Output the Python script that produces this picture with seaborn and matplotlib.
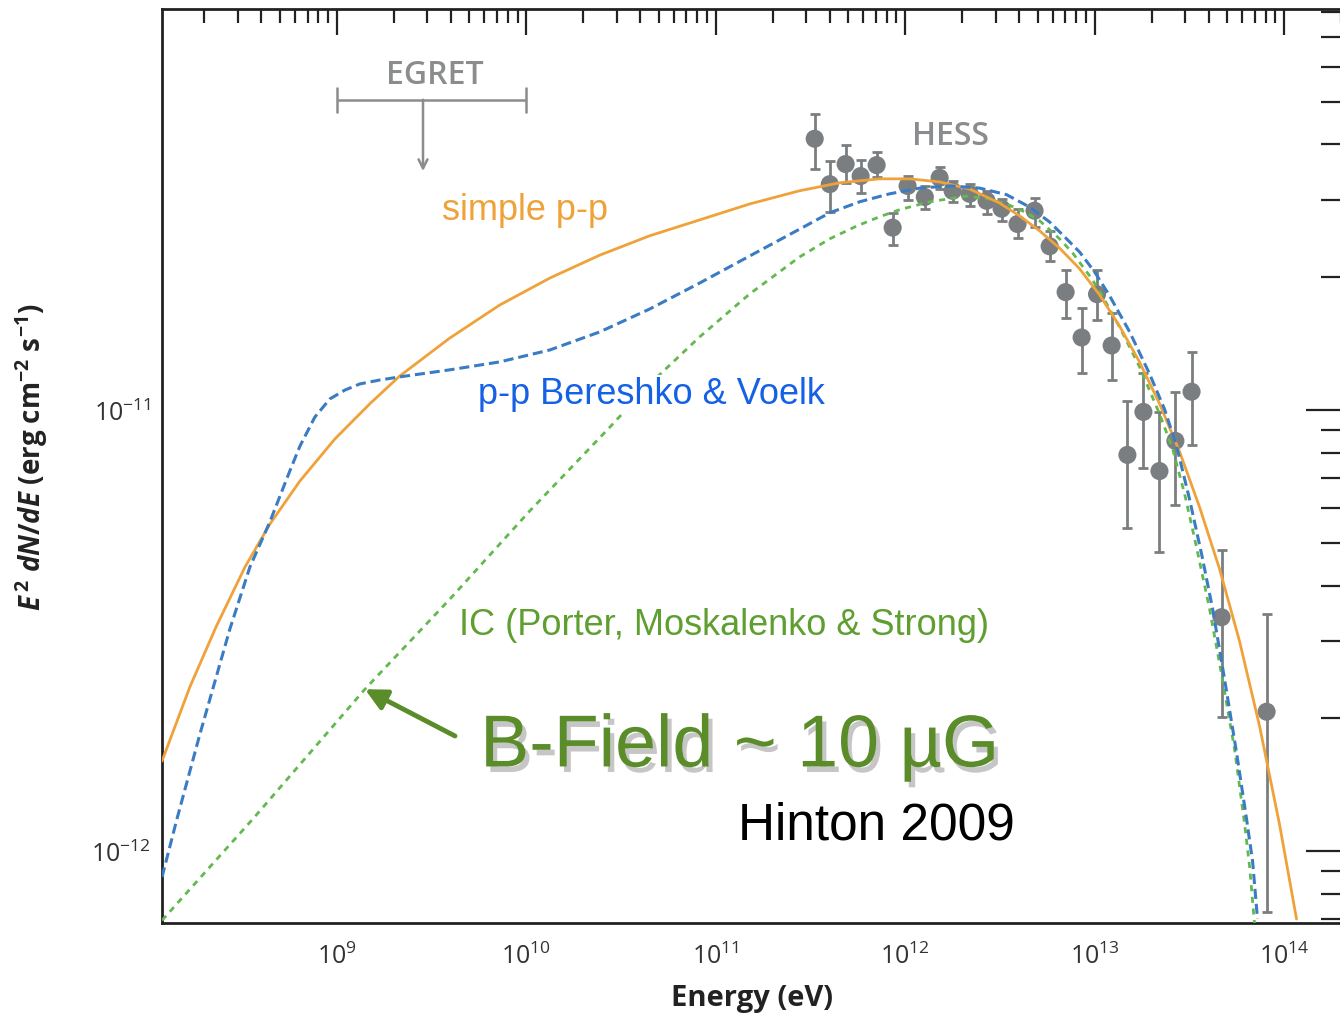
import numpy as np
import matplotlib.pyplot as plt
import matplotlib.patheffects as pe
from matplotlib.ticker import FixedLocator, LogLocator, LogFormatterSciNotation, NullFormatter
import seaborn as sns

# --- style ---
sns.set_theme(style='white')
plt.rcParams['font.family'] = ['Open Sans', 'DejaVu Sans']
plt.rcParams['mathtext.fontset'] = 'custom'
plt.rcParams['mathtext.rm'] = 'Open Sans:bold'
plt.rcParams['mathtext.it'] = 'Open Sans:italic:bold'
plt.rcParams['mathtext.bf'] = 'Open Sans:bold'

# --- HESS data points (eV, erg cm^-2 s^-1) ---
hess_E = [3.33e11, 4.00e11, 4.85e11, 5.82e11, 7.07e11, 8.59e11, 1.03e12, 1.27e12, 1.52e12,
          1.78e12, 2.19e12, 2.69e12, 3.23e12, 3.92e12, 4.82e12, 5.79e12, 7.03e12, 8.54e12,
          1.03e13, 1.23e13, 1.49e13, 1.81e13, 2.20e13, 2.67e13, 3.25e13, 4.68e13, 8.09e13]
hess_F = [4.12e-11, 3.25e-11, 3.61e-11, 3.39e-11, 3.59e-11, 2.59e-11, 3.22e-11, 3.04e-11, 3.36e-11,
          3.14e-11, 3.09e-11, 2.98e-11, 2.86e-11, 2.64e-11, 2.83e-11, 2.35e-11, 1.85e-11, 1.46e-11,
          1.83e-11, 1.40e-11, 7.91e-12, 9.90e-12, 7.27e-12, 8.51e-12, 1.10e-11, 3.39e-12, 2.07e-12]
hess_hi = [4.69e-11, 3.67e-11, 3.99e-11, 3.69e-11, 3.85e-11, 2.80e-11, 3.39e-11, 3.22e-11, 3.56e-11,
           3.31e-11, 3.25e-11, 3.14e-11, 3.01e-11, 2.86e-11, 3.02e-11, 2.55e-11, 2.08e-11, 1.70e-11,
           2.08e-11, 1.66e-11, 1.05e-11, 1.21e-11, 9.90e-12, 1.10e-11, 1.35e-11, 4.81e-12, 3.45e-12]
hess_lo = [3.52e-11, 2.81e-11, 3.27e-11, 3.10e-11, 3.38e-11, 2.37e-11, 2.99e-11, 2.86e-11, 3.17e-11,
           2.96e-11, 2.90e-11, 2.78e-11, 2.68e-11, 2.45e-11, 2.60e-11, 2.18e-11, 1.62e-11, 1.21e-11,
           1.60e-11, 1.17e-11, 5.40e-12, 7.39e-12, 4.76e-12, 6.09e-12, 8.33e-12, 2.01e-12, 7.27e-13]

# --- EGRET upper limit ---
egret_range = [1e9, 1e10]
egret_E = 2.85e9
egret_F = 5.05e-11
egret_arrow_to = 3.48e-11

# --- model curves (log10 E [eV], log10 E^2 dN/dE) ---
# simple p-p
pp_logE = [8.077, 8.224, 8.362, 8.515, 8.646, 8.805, 8.989, 9.174, 9.332, 9.596, 9.860, 10.124,
           10.388, 10.652, 10.916, 11.179, 11.443, 11.654, 11.865, 12.024, 12.182, 12.340, 12.499,
           12.604, 12.710, 12.815, 12.921, 13.026, 13.132, 13.237, 13.343, 13.449, 13.554, 13.660,
           13.765, 13.871, 13.976, 14.066]
pp_logF = [-11.796, -11.628, -11.492, -11.356, -11.259, -11.161, -11.066, -10.986, -10.923, -10.837,
           -10.762, -10.701, -10.649, -10.605, -10.569, -10.533, -10.503, -10.485, -10.476, -10.476,
           -10.483, -10.499, -10.531, -10.560, -10.594, -10.633, -10.680, -10.739, -10.810, -10.891,
           -10.986, -11.095, -11.220, -11.361, -11.524, -11.717, -11.939, -12.154]

# p-p Bereshko & Voelk
bv_logE = [8.077, 8.156, 8.277, 8.435, 8.541, 8.646, 8.752, 8.805, 8.884, 8.963, 9.042, 9.121,
           9.227, 9.332, 9.596, 9.860, 10.124, 10.388, 10.652, 10.916, 11.179, 11.443, 11.602,
           11.760, 11.918, 12.077, 12.235, 12.393, 12.536, 12.657, 12.763, 12.852, 12.921, 13.000,
           13.079, 13.185, 13.290, 13.369, 13.433, 13.501, 13.565, 13.623, 13.686, 13.749, 13.802,
           13.834, 13.860]
bv_logF = [-12.059, -11.927, -11.735, -11.497, -11.356, -11.254, -11.138, -11.082, -11.016, -10.975,
           -10.955, -10.941, -10.932, -10.925, -10.909, -10.891, -10.864, -10.823, -10.771, -10.712,
           -10.651, -10.590, -10.553, -10.528, -10.510, -10.497, -10.492, -10.497, -10.512, -10.540,
           -10.574, -10.612, -10.642, -10.687, -10.741, -10.823, -10.918, -10.998, -11.082, -11.202,
           -11.327, -11.451, -11.610, -11.776, -11.927, -12.023, -12.154]

# IC (Porter, Moskalenko & Strong)
ic_logE = [8.077, 8.557, 9.148, 9.596, 10.018, 10.441, 10.652, 10.916, 11.179, 11.443, 11.602,
           11.744, 11.865, 11.971, 12.129, 12.325, 12.446, 12.536, 12.631, 12.710, 12.815, 12.884,
           12.974, 13.026, 13.132, 13.237, 13.343, 13.412, 13.475, 13.538, 13.607, 13.670, 13.739,
           13.792, 13.818, 13.844]
ic_logF = [-12.157, -11.927, -11.633, -11.429, -11.229, -11.039, -10.941, -10.834, -10.737, -10.653,
           -10.612, -10.583, -10.562, -10.546, -10.528, -10.515, -10.522, -10.533, -10.551, -10.571,
           -10.612, -10.644, -10.696, -10.730, -10.812, -10.902, -11.009, -11.088, -11.190, -11.311,
           -11.451, -11.599, -11.769, -11.939, -12.034, -12.163]

# --- colours ---
c_pp = '#F0A23A'
c_bv = '#3A7CC4'
c_bv_txt = '#1561E6'
c_ic = '#62B94E'
c_ic_txt = '#5E9F30'
c_bfield = '#5A8C2A'
c_gray = '#7B7E80'
c_egret = '#8A8C8E'
c_axis = '#222222'

fig = plt.figure(figsize=(13.4, 10.2), dpi=100)
ax = fig.add_axes([162 / 1340, 96 / 1020, 1180 / 1340, 914 / 1020])
ax.set_xscale('log')
ax.set_yscale('log')

# HESS points
ax.errorbar(hess_E, hess_F,
            yerr=[np.array(hess_F) - np.array(hess_lo), np.array(hess_hi) - np.array(hess_F)],
            fmt='none', ecolor=c_gray, elinewidth=2, capsize=3.5, capthick=2, zorder=2)
sns.scatterplot(x=hess_E, y=hess_F, ax=ax, color=c_gray, s=170, edgecolor='none', zorder=2)

# EGRET upper limit
ax.errorbar([egret_E], [egret_F], xerr=[[egret_E - egret_range[0]], [egret_range[1] - egret_E]],
            fmt='none', ecolor=c_egret, elinewidth=1.8, capsize=9.5, capthick=1.8, zorder=2)
ax.annotate('', xy=(egret_E, egret_arrow_to), xytext=(egret_E, egret_F),
            arrowprops=dict(arrowstyle='->', color=c_egret, lw=1.8, mutation_scale=16,
                            shrinkA=0, shrinkB=0))

# model curves
sns.lineplot(x=10 ** np.array(pp_logE), y=10 ** np.array(pp_logF), ax=ax, sort=False,
             color=c_pp, linewidth=2.0, zorder=4)
sns.lineplot(x=10 ** np.array(bv_logE), y=10 ** np.array(bv_logF), ax=ax, sort=False,
             color=c_bv, linewidth=2.2, zorder=4)
ax.lines[-1].set_dashes([3.3, 1.6])
sns.lineplot(x=10 ** np.array(ic_logE), y=10 ** np.array(ic_logF), ax=ax, sort=False,
             color=c_ic, linewidth=2.0, zorder=3)
ax.lines[-1].set_dashes([2.2, 2.0])

ax.set_xlim(10 ** 8.077, 10 ** 14.306)
ax.set_ylim(10 ** -12.163, 10 ** -10.091)

# ticks
ax.xaxis.set_major_locator(FixedLocator([1e9, 1e10, 1e11, 1e12, 1e13, 1e14]))
ax.yaxis.set_major_locator(FixedLocator([1e-12, 1e-11]))
for axis in (ax.xaxis, ax.yaxis):
    axis.set_minor_locator(LogLocator(base=10, subs=np.arange(2, 10), numticks=20))
    axis.set_major_formatter(LogFormatterSciNotation())
    axis.set_minor_formatter(NullFormatter())
ax.tick_params(which='both', direction='in', top=True, right=True, color=c_axis, width=1.6,
               labelcolor='#333333', labelsize=18)
ax.tick_params(axis='x', which='major', length=19, pad=14)
ax.tick_params(axis='x', which='minor', length=10)
ax.tick_params(axis='y', which='major', length=26, pad=8)
ax.tick_params(axis='y', which='minor', length=15)
for s in ax.spines.values():
    s.set_color(c_axis)
    s.set_linewidth(2)

ax.set_xlabel('Energy (eV)', fontsize=21, fontweight='bold', color='#222222')
ax.xaxis.set_label_coords(0.5, -0.066)
ax.set_ylabel(r'$E^{\,2}$ $dN/dE$ (erg cm$^{-2}$ s$^{-1}$)', fontsize=20, fontweight='bold',
              color='#222222')
ax.yaxis.set_label_coords(-0.095, 0.51)

# annotations
ax.text(0.2314, 0.9278, 'EGRET', transform=ax.transAxes, ha='center', va='center',
        fontsize=23, fontweight='semibold', color=c_egret)
ax.text(0.6678, 0.8621, 'HESS', transform=ax.transAxes, ha='center', va='center',
        fontsize=23, fontweight='semibold', color=c_egret)

box = dict(facecolor='white', edgecolor='none', pad=1)
lab_font = ['Liberation Sans', 'DejaVu Sans']
ax.text(0.3076, 0.7801, 'simple p-p', transform=ax.transAxes, ha='center', va='center',
        fontsize=26, color=c_pp, family=lab_font, bbox=box, zorder=5)
ax.text(0.4144, 0.5788, 'p-p Bereshko & Voelk', transform=ax.transAxes, ha='center', va='center',
        fontsize=26, color=c_bv_txt, family=lab_font, bbox=box, zorder=5)
ax.text(0.4763, 0.3271, 'IC (Porter, Moskalenko & Strong)', transform=ax.transAxes, ha='center',
        va='center', fontsize=26, color=c_ic_txt, family=lab_font, bbox=box, zorder=5)

ax.text(0.4898, 0.1926, 'B-Field ~ 10 µG', transform=ax.transAxes, ha='center', va='center',
        fontsize=53, color=c_bfield, family=lab_font, zorder=6,
        path_effects=[pe.SimplePatchShadow(offset=(3, -4), shadow_rgbFace='#444444', alpha=0.3),
                      pe.Normal()])
ax.text(0.6051, 0.1072, 'Hinton 2009', transform=ax.transAxes, ha='center', va='center',
        fontsize=37, color='black', family=lab_font, zorder=6)

ax.annotate('', xy=(10 ** 9.148, 10 ** -11.633), xycoords='data',
            xytext=(0.2483, 0.2046), textcoords='axes fraction',
            arrowprops=dict(arrowstyle='-|>', color=c_bfield, lw=3.5, mutation_scale=32,
                            shrinkA=0, shrinkB=0), zorder=6)

fig.savefig('out.png', dpi=100)
